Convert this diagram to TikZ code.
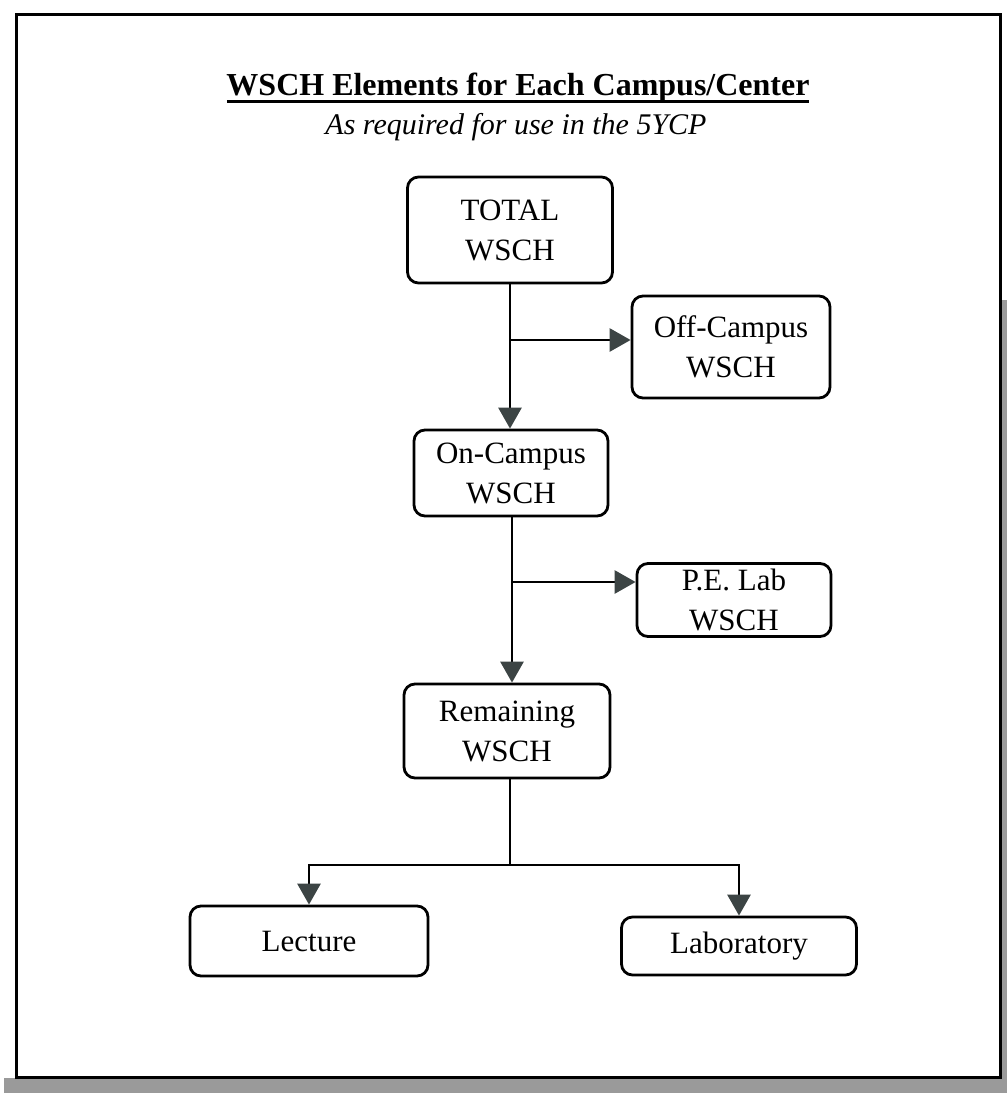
\documentclass[tikz,border=0pt]{standalone}
\usepackage{fontspec}
\setmainfont{Liberation Serif}
\usetikzlibrary{arrows.meta,calc}
\definecolor{tipgray}{HTML}{3C4444}
\definecolor{shadowgray}{HTML}{9A9A9A}
\begin{document}
\begin{tikzpicture}[x=1pt,y=-1pt,
  box/.style={draw=black,line width=2.8pt,rounded corners=11pt,align=center,
    font=\fontsize{31}{40}\selectfont,inner sep=0pt},
  conn/.style={draw=black,line width=2.8pt},
  arr/.style={conn,-{Triangle[width=23pt,length=21pt,color=tipgray]}}]
\useasboundingbox (0,0) rectangle (1007,1093);
% shadow and frame
\fill[shadowgray] (1000,300) -- (1007,300) -- (1007,1093) -- (4,1093) -- (4,1078) -- (1000,1078) -- cycle;
\draw[line width=3pt,fill=white] (16,14) rectangle (1000,1077);
% title
\node (title) at (518,88) {\fontsize{32}{38}\selectfont\bfseries WSCH Elements for Each Campus/Center};
\draw[line width=2.6pt] ($(title.south west)+(4,-5)$) -- ($(title.south east)+(-4,-5)$);
\node (sub) at (516,127) {\fontsize{30}{36}\selectfont\itshape As required for use in the 5YCP};
% boxes
\node[box,minimum width=205pt,minimum height=106pt] (total) at (510,230) {TOTAL\\WSCH};
\node[box,minimum width=198pt,minimum height=102pt] (offc) at (731,347) {Off-Campus\\WSCH};
\node[box,minimum width=194pt,minimum height=86pt] (onc) at (511,473) {On-Campus\\WSCH};
\node[box,minimum width=194pt,minimum height=73pt] (pel) at (734,600) {P.E. Lab\\WSCH};
\node[box,minimum width=206pt,minimum height=94pt] (rem) at (507,731) {Remaining\\WSCH};
\node[box,minimum width=238pt,minimum height=70pt] (lect) at (309,941) {Lecture};
\node[box,minimum width=235pt,minimum height=58pt] (lab) at (739,946) {Laboratory};
% connectors
\coordinate (t1) at (510,283);
\coordinate (b1) at (510,340);
\draw[arr] (t1) -- (t1 |- onc.north);
\draw[arr] (b1) -- (b1 -| offc.west);
\coordinate (t2) at (512,516);
\coordinate (b2) at (512,582);
\draw[arr] (t2) -- (t2 |- rem.north);
\draw[arr] (b2) -- (b2 -| pel.west);
\coordinate (t3) at (510,778);
\coordinate (split) at (510,865);
\draw[conn] (t3) -- (split);
\draw[arr] (split) -| (lect.north);
\draw[arr] (split) -| (lab.north);
\end{tikzpicture}
\end{document}
